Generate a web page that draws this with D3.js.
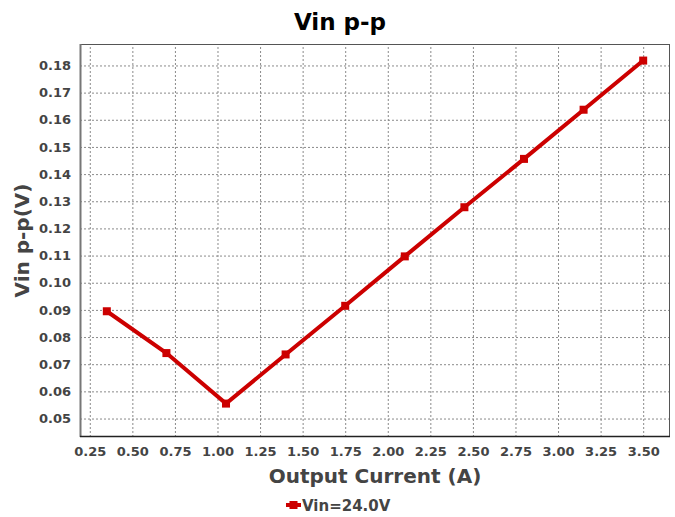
<!DOCTYPE html>
<html>
<head>
<meta charset="utf-8">
<script src="https://cdn.jsdelivr.net/npm/d3@7"></script>
<style>
  html, body { margin: 0; padding: 0; background: #fff; }
  svg { display: block; font-family: "DejaVu Sans", sans-serif; }
</style>
</head>
<body>
<svg id="chart" width="675" height="517"></svg>
<script>
const title = "Vin p-p";
const xLabel = "Output Current (A)";
const yLabel = "Vin p-p(V)";
const seriesName = "Vin=24.0V";
const current = [0.35, 0.70, 1.05, 1.40, 1.75, 2.10, 2.45, 2.80, 3.15, 3.50];
const vinPP = [0.0895, 0.0741, 0.0555, 0.0736, 0.0915, 0.1097, 0.1278, 0.1456, 0.1637, 0.1818];
const xTicks = [0.25, 0.50, 0.75, 1.00, 1.25, 1.50, 1.75, 2.00, 2.25, 2.50, 2.75, 3.00, 3.25, 3.50];
const yTicks = [0.05, 0.06, 0.07, 0.08, 0.09, 0.10, 0.11, 0.12, 0.13, 0.14, 0.15, 0.16, 0.17, 0.18];

const svg = d3.select("#chart");
const plot = { left: 80, top: 44, right: 670, bottom: 437 };
const red = "#cc0000";
const textCol = "#444444";

const x = d3.scaleLinear().domain([0.1925, 3.6575]).range([plot.left, plot.right]);
const y = d3.scaleLinear().domain([0.0432, 0.1879]).range([plot.bottom, plot.top]);

// background
svg.append("rect").attr("x", plot.left).attr("y", plot.top)
  .attr("width", plot.right - plot.left).attr("height", plot.bottom - plot.top)
  .attr("fill", "#fff");

// grid
const gx = svg.append("g").attr("transform", `translate(0,${plot.bottom})`)
  .call(d3.axisBottom(x).tickValues(xTicks).tickSize(-(plot.bottom - plot.top)).tickFormat(""));
const gy = svg.append("g").attr("transform", `translate(${plot.left},0)`)
  .call(d3.axisLeft(y).tickValues(yTicks).tickSize(-(plot.right - plot.left)).tickFormat(""));
[gx, gy].forEach(g => {
  g.select(".domain").remove();
  g.selectAll("line").attr("stroke", "#8a8a8a").attr("stroke-width", 1).attr("stroke-dasharray", "2,2");
});

// tick labels
const lx = svg.append("g").attr("transform", `translate(0,${plot.bottom})`)
  .call(d3.axisBottom(x).tickValues(xTicks).tickSize(0).tickPadding(10).tickFormat(d3.format(".2f")));
const ly = svg.append("g").attr("transform", `translate(${plot.left},0)`)
  .call(d3.axisLeft(y).tickValues(yTicks).tickSize(0).tickPadding(9).tickFormat(d3.format(".2f")));
[lx, ly].forEach(g => {
  g.select(".domain").remove();
  g.selectAll("text").attr("fill", textCol).attr("font-size", "13px").attr("font-weight", "bold")
    .attr("font-family", "DejaVu Sans, sans-serif");
});

// frame
svg.append("rect").attr("x", plot.left + 0.5).attr("y", plot.top + 0.5)
  .attr("width", plot.right - plot.left - 1).attr("height", plot.bottom - plot.top - 1)
  .attr("fill", "none").attr("stroke", "#555").attr("stroke-width", 1);
svg.append("line").attr("x1", plot.left + 0.5).attr("x2", plot.left + 0.5)
  .attr("y1", plot.top).attr("y2", plot.bottom).attr("stroke", "#777").attr("stroke-width", 2);
svg.append("line").attr("x1", plot.left).attr("x2", plot.right)
  .attr("y1", plot.bottom - 0.5).attr("y2", plot.bottom - 0.5).attr("stroke", "#222").attr("stroke-width", 1.5);

// series
const pts = current.map((c, i) => [c, vinPP[i]]);
svg.append("path").datum(pts)
  .attr("fill", "none").attr("stroke", red).attr("stroke-width", 4).attr("stroke-linejoin", "miter")
  .attr("d", d3.line().x(d => x(d[0])).y(d => y(d[1])));
svg.append("g").selectAll("rect").data(pts).join("rect")
  .attr("x", d => x(d[0]) - 4).attr("y", d => y(d[1]) - 4)
  .attr("width", 8).attr("height", 8).attr("fill", red);

// title
svg.append("text").attr("x", 340).attr("y", 30).attr("text-anchor", "middle")
  .attr("font-size", "23px").attr("font-weight", "bold").attr("fill", "#000").text(title);

// axis labels
svg.append("text").attr("x", (plot.left + plot.right) / 2).attr("y", 483).attr("text-anchor", "middle")
  .attr("font-size", "20px").attr("font-weight", "bold").attr("fill", textCol).text(xLabel);
svg.append("text").attr("transform", `translate(29,${(plot.top + plot.bottom) / 2}) rotate(-90)`)
  .attr("text-anchor", "middle")
  .attr("font-size", "20px").attr("font-weight", "bold").attr("fill", textCol).text(yLabel);

// legend
const leg = svg.append("g").attr("transform", "translate(286,505)");
leg.append("line").attr("x1", 0).attr("x2", 15).attr("y1", 0).attr("y2", 0)
  .attr("stroke", red).attr("stroke-width", 4);
leg.append("rect").attr("x", 3.5).attr("y", -4).attr("width", 8).attr("height", 8).attr("fill", red);
leg.append("text").attr("x", 16).attr("y", 5.5)
  .attr("font-size", "15px").attr("font-weight", "bold").attr("fill", textCol).text(seriesName);
</script>
</body>
</html>
